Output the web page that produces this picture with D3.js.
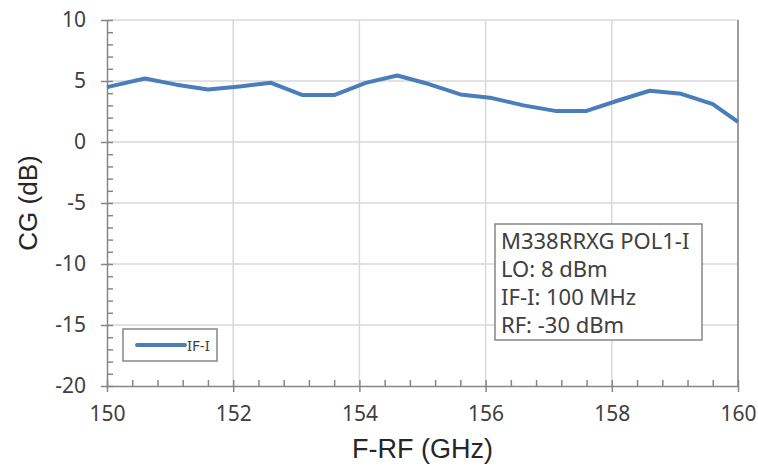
<!DOCTYPE html>
<html>
<head>
<meta charset="utf-8">
<script src="https://cdnjs.cloudflare.com/ajax/libs/d3/7.8.5/d3.min.js"></script>
<style>
	body { margin: 0; background: white; }
	text { font-family: 'Noto Sans', 'Open Sans', sans-serif; }
</style>
</head>
<body>
<svg id="chart" width="758" height="466"></svg>
<script>
// data
const FREQ = [150, 150.6, 151.1, 151.6, 152.1, 152.6, 153.1, 153.6, 154.1, 154.6, 155.1,
	155.6, 156.1, 156.6, 157.1, 157.6, 158.1, 158.6, 159.1, 159.6, 160];
const CG = [4.5, 5.2, 4.7, 4.3, 4.55, 4.85, 3.85, 3.85, 4.85, 5.45, 4.75,
	3.9, 3.6, 3.0, 2.55, 2.55, 3.4, 4.2, 3.95, 3.1, 1.65];
const X_TICKS = [150, 152, 154, 156, 158, 160];
const Y_TICKS = [10, 5, 0, -5, -10, -15, -20];
const NOTES = ['M338RRXG POL1-I', 'LO: 8 dBm', 'IF-I: 100 MHz', 'RF: -30 dBm'];
const SERIES = 'IF-I';

const LEFT = 107, RIGHT = 738, TOP = 20, BOTTOM = 386;
const BLUE = '#4a7ebb', AXIS = '#868686', GRID = '#d9d9d9';

var svg = d3.select('#chart');

var x = d3.scaleLinear().domain([150, 160]).range([LEFT, RIGHT]);
var y = d3.scaleLinear().domain([-20, 10]).range([BOTTOM, TOP]);

// grid
svg.append('g')
	.selectAll('line')
	.data(X_TICKS.slice(1))
	.enter()
	.append('line')
	.attr('x1', d => x(d)).attr('x2', d => x(d))
	.attr('y1', TOP).attr('y2', BOTTOM)
	.style('stroke', GRID).style('stroke-width', 1.5);
svg.append('g')
	.selectAll('line')
	.data(Y_TICKS.slice(0, -1))
	.enter()
	.append('line')
	.attr('x1', LEFT).attr('x2', RIGHT)
	.attr('y1', d => y(d)).attr('y2', d => y(d))
	.style('stroke', GRID).style('stroke-width', 1.5);

// right border
svg.append('line')
	.attr('x1', RIGHT).attr('x2', RIGHT)
	.attr('y1', TOP).attr('y2', BOTTOM)
	.style('stroke', AXIS).style('stroke-width', 1.5);

// minor ticks (inside)
svg.append('g')
	.call(d3.axisRight(y).tickValues(d3.range(-20, 11, 1)).tickSize(6).tickFormat(''))
	.attr('transform', 'translate(' + LEFT + ',0)')
	.call(g => g.select('.domain').remove())
	.selectAll('line').style('stroke', AXIS).style('stroke-width', 1.5);
svg.append('g')
	.call(d3.axisTop(x).tickValues(d3.range(150, 160.01, 0.4)).tickSize(6).tickFormat(''))
	.attr('transform', 'translate(0,' + BOTTOM + ')')
	.call(g => g.select('.domain').remove())
	.selectAll('line').style('stroke', AXIS).style('stroke-width', 1.5);

// main axes (plain hyphen for negatives, as in the original)
var fmt = d => String(d);
var yAxis = svg.append('g')
	.attr('transform', 'translate(' + LEFT + ',0)')
	.call(d3.axisLeft(y).tickValues(Y_TICKS).tickFormat(fmt).tickSize(6).tickPadding(6).tickSizeOuter(0));
var xAxis = svg.append('g')
	.attr('transform', 'translate(0,' + BOTTOM + ')')
	.call(d3.axisBottom(x).tickValues(X_TICKS).tickFormat(fmt).tickSize(6).tickPadding(14).tickSizeOuter(0));

[xAxis, yAxis].forEach(function(a) {
	a.select('.domain').style('stroke', AXIS).style('stroke-width', 1.5);
	a.selectAll('line').style('stroke', AXIS).style('stroke-width', 1.5);
	a.selectAll('text')
		.style('font-family', "'Noto Sans', sans-serif")
		.style('font-size', '21px')
		.style('fill', '#404040');
});
yAxis.selectAll('text').attr('x', -21);

// data line
var line = d3.line()
	.x((d, i) => x(FREQ[i]))
	.y(d => y(d));
svg.append('path')
	.datum(CG)
	.attr('d', line)
	.style('fill', 'none')
	.style('stroke', BLUE)
	.style('stroke-width', 4)
	.style('stroke-linejoin', 'round');

// axis titles
svg.append('text')
	.text('F-RF (GHz)')
	.attr('x', (LEFT + RIGHT) / 2)
	.attr('y', 458)
	.attr('text-anchor', 'middle')
	.style('font-family', "'Liberation Sans', Arial, sans-serif")
	.style('font-size', '27px')
	.style('fill', '#262626');
svg.append('text')
	.text('CG (dB)')
	.attr('transform', 'translate(37,203) rotate(-90)')
	.attr('text-anchor', 'middle')
	.style('font-family', "'Liberation Sans', Arial, sans-serif")
	.style('font-size', '26px')
	.style('fill', '#262626');

// legend
var legend = svg.append('g');
legend.append('rect')
	.attr('x', 123).attr('y', 329)
	.attr('width', 94).attr('height', 32)
	.style('fill', 'white').style('stroke', AXIS).style('stroke-width', 1.5);
legend.append('line')
	.attr('x1', 137).attr('x2', 185)
	.attr('y1', 345).attr('y2', 345)
	.style('stroke', BLUE).style('stroke-width', 4).style('stroke-linecap', 'round');
legend.append('text')
	.text(SERIES)
	.attr('x', 187).attr('y', 351)
	.style('font-size', '15px')
	.style('fill', '#404040');

// annotation box
var note = svg.append('g');
note.append('rect')
	.attr('x', 495).attr('y', 224)
	.attr('width', 207).attr('height', 116)
	.style('fill', 'white').style('stroke', AXIS).style('stroke-width', 1.5);
note.selectAll('text')
	.data(NOTES)
	.enter()
	.append('text')
	.text(d => d)
	.attr('x', 501)
	.attr('y', (d, i) => 249 + i * 28)
	.style('font-size', '22px')
	.style('fill', '#404040');
</script>
</body>
</html>
